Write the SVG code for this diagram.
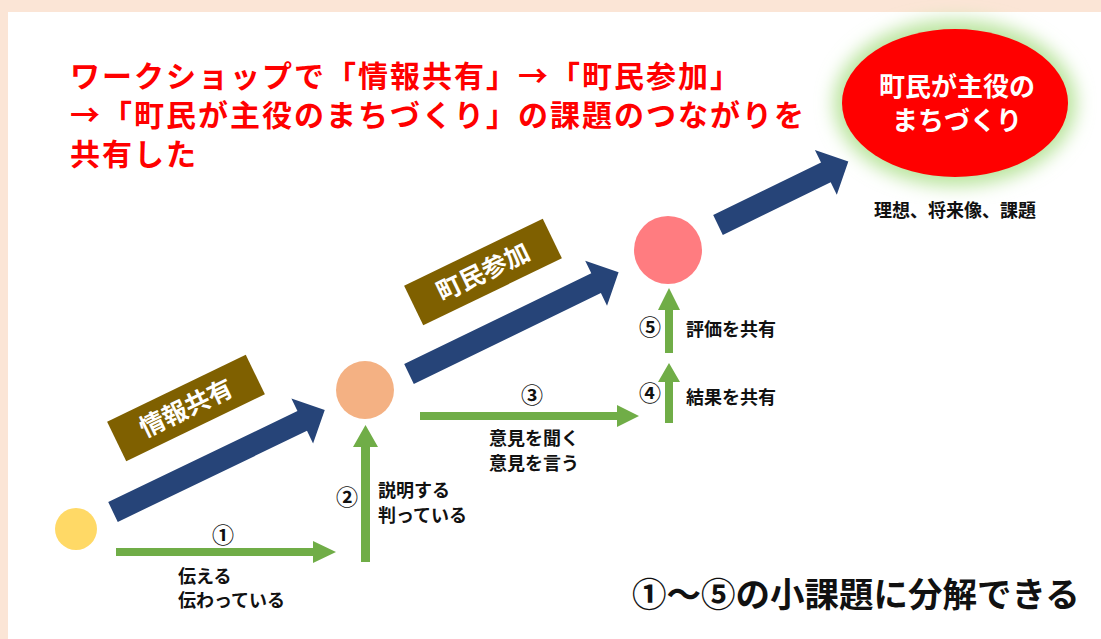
<svg xmlns="http://www.w3.org/2000/svg" width="1101" height="639" viewBox="0 0 1101 639">
<defs>
<style>
.t{font-family:"Noto Sans CJK JP","Noto Sans",sans-serif;font-weight:bold}
.red{fill:#FF0000;font-size:30px;letter-spacing:2px}
.blk{fill:#111111;font-size:18px}
.num{fill:#111111;font-size:22px}
.wht{fill:#FFFFFF}
.blue{fill:#264478}
.green{fill:#70AD47}
.brown{fill:#7F6000}
</style>
<filter id="glow" x="-30%" y="-30%" width="160%" height="160%">
<feGaussianBlur stdDeviation="9"/>
</filter>
</defs>
<rect x="0" y="0" width="1101" height="639" fill="#FBE5D6"/>
<rect x="8" y="12" width="1093" height="627" fill="#FFFFFF"/>

<g id="title">
<text class="t red" x="70" y="87">ワークショップで「情報共有」→「町民参加」</text>
<text class="t red" x="70" y="126">→「町民が主役のまちづくり」の課題のつながりを</text>
<text class="t red" x="70" y="165">共有した</text>
</g>

<g id="goal">
<ellipse cx="955" cy="103" rx="121" ry="83" fill="#B9E49C" filter="url(#glow)"/>
<ellipse cx="955" cy="103" rx="113" ry="74" fill="#FF0000"/>
<text class="t wht" x="957" y="96" font-size="26" text-anchor="middle">町民が主役の</text>
<text class="t wht" x="957" y="130" font-size="26" text-anchor="middle">まちづくり</text>
<text class="t blk" x="955" y="217" font-size="19" text-anchor="middle">理想、将来像、課題</text>
</g>

<g id="connectors">
<polygon class="blue" points="0,-11 210,-11 210,-25 235,0 210,25 210,11 0,11" transform="translate(113,512) rotate(-25.7)"/>
<polygon class="blue" points="0,-11 208,-11 208,-25 233,0 208,25 208,11 0,11" transform="translate(409,374) rotate(-25.9)"/>
<polygon class="blue" points="0,-11 120,-11 120,-25 145,0 120,25 120,11 0,11" transform="translate(718,225) rotate(-26)"/>
<polygon class="green" points="116,548 313,548 313,541 336,552 313,563 313,556 116,556"/>
<polygon class="green" points="361,562 361,447 353,447 365.5,425 378,447 370,447 370,562"/>
<polygon class="green" points="420,412 617,412 617,405 639,416 617,427 617,420 420,420"/>
<polygon class="green" points="665,423 665,382 658,382 669,363 680,382 673,382 673,423"/>
<polygon class="green" points="665,353 665,310 658,310 669,288 680,310 673,310 673,353"/>
</g>

<g id="node-start"><circle cx="76" cy="529" r="21" fill="#FFD966"/></g>
<g id="node-mid"><circle cx="365" cy="390" r="29" fill="#F4B183"/></g>
<g id="node-upper"><circle cx="668" cy="250" r="34" fill="#FF7C80"/></g>

<g id="label-info">
<g transform="translate(186,408) rotate(-25.8)">
<rect x="-77" y="-22" width="154" height="44" class="brown"/>
<text class="t wht" x="0" y="9" font-size="25" text-anchor="middle">情報共有</text>
</g>
</g>
<g id="label-part">
<g transform="translate(483,272) rotate(-25.8)">
<rect x="-77" y="-22" width="154" height="44" class="brown"/>
<text class="t wht" x="0" y="9" font-size="25" text-anchor="middle">町民参加</text>
</g>
</g>

<g id="step1">
<text class="t num" x="223" y="543" text-anchor="middle">①</text>
<text class="t blk" x="178" y="583">伝える</text>
<text class="t blk" x="178" y="607">伝わっている</text>
</g>
<g id="step2">
<text class="t num" x="347" y="505" text-anchor="middle">②</text>
<text class="t blk" x="378" y="497">説明する</text>
<text class="t blk" x="378" y="522">判っている</text>
</g>
<g id="step3">
<text class="t num" x="532" y="403" text-anchor="middle">③</text>
<text class="t blk" x="489" y="445">意見を聞く</text>
<text class="t blk" x="489" y="470">意見を言う</text>
</g>
<g id="step4">
<text class="t num" x="650" y="401" text-anchor="middle">④</text>
<text class="t blk" x="686" y="404">結果を共有</text>
</g>
<g id="step5">
<text class="t num" x="650" y="335" text-anchor="middle">⑤</text>
<text class="t blk" x="686" y="336">評価を共有</text>
</g>

<g id="summary">
<text class="t" x="632" y="607" font-size="34.5" fill="#111111">①～⑤の小課題に分解できる</text>
</g>
</svg>
